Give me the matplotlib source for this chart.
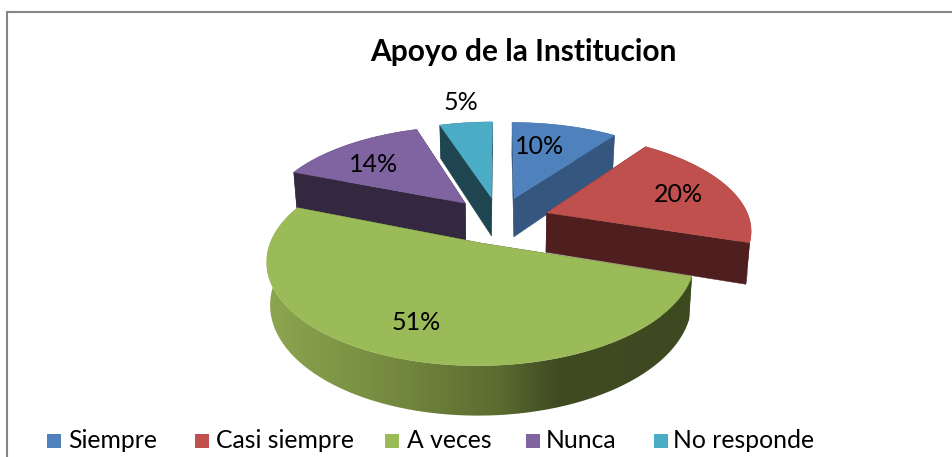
import numpy as np
import matplotlib
matplotlib.use("Agg")
import matplotlib.pyplot as plt
from matplotlib.patches import Polygon, Rectangle
from matplotlib.colors import LinearSegmentedColormap

plt.rcParams['font.family'] = ['Lato', 'DejaVu Sans']

categories = ['Siempre', 'Casi siempre', 'A veces', 'Nunca', 'No responde']
values = [10, 20, 51, 14, 5]
top_colors = ['#4F81BD', '#C0504D', '#9BBB59', '#8064A2', '#4BACC6']
side_colors = ['#35577F', '#4F1F1F', '#3C4A20', '#33283F', '#1F4650']
title = 'Apoyo de la Institucion'

# pie geometry, in pixels of the output image
CX, CY = 499, 220
RX, RY = 203, 94.5
PERSP = 0.161
EXPLODE = 0.25
DEPTH = 40
BOTTOM_SHRINK = 0.985


def project(u, v, lower=False):
    d = 1 + PERSP * v
    x = RX * u / d
    y = -RY * v / d
    if lower:
        return CX + x * BOTTOM_SHRINK, CY + y + DEPTH / d
    return CX + x, CY + y


def slice_points(start, end, mid, n=80):
    t = np.linspace(start, end, n)
    ou, ov = EXPLODE * np.sin(mid), EXPLODE * np.cos(mid)
    return ou + np.sin(t), ov + np.cos(t), ou, ov


fig = plt.figure(figsize=(9.53, 4.57), dpi=100)
ax = fig.add_axes([0, 0, 1, 1])
ax.set_xlim(0, 953)
ax.set_ylim(457, 0)
ax.axis('off')

# chart frame, cut off by the crop on the right and at the bottom
ax.plot([7, 7, 953], [457, 12, 12], color='#868686', lw=1.5, solid_joinstyle='miter')

fracs = np.array(values) / sum(values) * 2 * np.pi
starts = np.concatenate([[0], np.cumsum(fracs)[:-1]])
ends = starts + fracs
mids = (starts + ends) / 2

green_ramp = LinearSegmentedColormap.from_list(
    'wall', [(0, '#8CA650'), (0.3, '#74893F'), (0.55, '#5A6B30'), (0.68, '#404B22'), (1, '#3E4921')])

# back slices first so the front ones cover them
for i in np.argsort(-np.cos(mids)):
    u, v, ou, ov = slice_points(starts[i], ends[i], mids[i])
    xt, yt = project(u, v)
    xb, yb = project(u, v, lower=True)
    ax_, ay_ = project(ou, ov)
    bx_, by_ = project(ou, ov, lower=True)

    wall = np.column_stack([np.r_[xt, xb[::-1]], np.r_[yt, yb[::-1]]])
    if values[i] == max(values):
        poly = Polygon(wall, closed=True, fc='none', ec='none')
        ax.add_patch(poly)
        grad = np.linspace(0, 1, 256).reshape(1, -1)
        im = ax.imshow(grad, extent=[xt.min(), xt.max(), 457, 0], cmap=green_ramp,
                       aspect='auto', zorder=1)
        im.set_clip_path(poly)
    else:
        ax.add_patch(Polygon(wall, closed=True, fc=side_colors[i], ec='none', zorder=1 + 0.1 * i))

    z = 2 + (1 - np.cos(mids[i]))
    for k in (0, -1):
        q = [(ax_, ay_), (xt[k], yt[k]), (xb[k], yb[k]), (bx_, by_)]
        ax.add_patch(Polygon(q, closed=True, fc=side_colors[i], ec=side_colors[i], lw=0.3, zorder=z))
    top = np.column_stack([np.r_[ax_, xt], np.r_[ay_, yt]])
    ax.add_patch(Polygon(top, closed=True, fc=top_colors[i], ec=top_colors[i], lw=0.3, zorder=z + 0.1))

ax.text(523.5, 52, title, ha='center', va='center', fontsize=21.5, fontweight='bold', color='black', zorder=10)

label_pos = [(540, 146), (678, 194), (416, 323), (374, 164), (461, 103)]
for val, (lx, ly) in zip(values, label_pos):
    ax.text(lx, ly, f'{val}%', ha='center', va='center', fontsize=18, color='black', zorder=10)

swatch_x = [47, 195, 385, 526, 654]
text_x = [68, 216, 407, 546, 673]
for name, col, sx, tx in zip(categories, top_colors, swatch_x, text_x):
    ax.add_patch(Rectangle((sx, 434), 14, 14, fc=col, ec='none', zorder=10))
    ax.text(tx, 441, name, ha='left', va='center', fontsize=17.8, color='black', zorder=10)

fig.savefig('out.png', dpi=100)
